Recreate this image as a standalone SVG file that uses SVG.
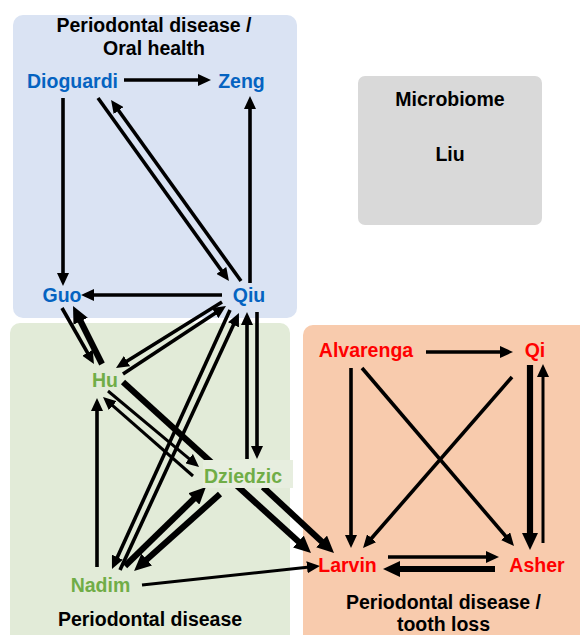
<svg xmlns="http://www.w3.org/2000/svg" width="580" height="635" viewBox="0 0 580 635">
<style>
text{font-family:"Liberation Sans",Arial,sans-serif;font-weight:bold;font-size:19.5px;text-anchor:middle}
.title{fill:#000}
.blue{fill:#0563c1}
.green{fill:#70ad47}
.red{fill:#ff0000}
.c line{stroke:#000;fill:none}
.n{stroke-width:3.6;marker-end:url(#ah)}
.s{stroke-width:3;marker-end:url(#ah)}
.t{stroke-width:6.2;marker-end:url(#ahb)}
</style>
<defs>
<marker id="ah" markerUnits="userSpaceOnUse" viewBox="0 0 13 12" markerWidth="13" markerHeight="12" refX="5" refY="6" orient="auto"><path d="M0,0 L13,6 L0,12 z" fill="#000"/></marker>
<marker id="ahb" markerUnits="userSpaceOnUse" viewBox="0 0 17 16" markerWidth="17" markerHeight="16" refX="7" refY="8" orient="auto"><path d="M0,0 L17,8 L0,16 z" fill="#000"/></marker>
</defs>
<rect width="580" height="635" fill="#fff"/>
<g id="regions">
<rect x="13" y="15" width="284" height="303" rx="10" fill="#dae3f3"/>
<rect x="10" y="323" width="280" height="330" rx="10" fill="#e2ebd8"/>
<rect x="303" y="325" width="290" height="330" rx="10" fill="#f8cbad"/>
<text class="title" x="154" y="32">Periodontal disease /</text>
<text class="title" x="154" y="55">Oral health</text>
<text class="title" x="150" y="626">Periodontal disease</text>
<text class="title" x="443.5" y="609">Periodontal disease /</text>
<text class="title" x="443.5" y="631">tooth loss</text>
</g>
<g id="connectors" class="c">
<line class="n" x1="124" y1="80" x2="203" y2="80"/>
<line class="n" x1="63" y1="98" x2="63" y2="278"/>
<line class="n" x1="98" y1="98" x2="224.3" y2="274.5"/>
<line class="n" x1="241" y1="281" x2="115.7" y2="106.5"/>
<line class="n" x1="250" y1="283" x2="250" y2="104"/>
<line class="n" x1="222" y1="295" x2="89" y2="295"/>
<line class="n" x1="62" y1="308" x2="90" y2="357.1"/>
<line class="t" x1="102" y1="364" x2="77.5" y2="315"/>
<line class="n" x1="222" y1="302" x2="122.8" y2="363.8"/>
<line class="n" x1="123" y1="374" x2="219.3" y2="310.4"/>
<line class="s" x1="108" y1="391" x2="192.9" y2="461.8"/>
<line class="s" x1="193" y1="476" x2="109" y2="402.3"/>
<line class="t" x1="123" y1="382" x2="303.6" y2="546.3"/>
<line class="t" x1="263" y1="487" x2="326.7" y2="546.2"/>
<line class="n" x1="257" y1="312" x2="257" y2="451"/>
<line class="n" x1="247" y1="459" x2="247" y2="320"/>
<line class="n" x1="230" y1="310" x2="115.3" y2="561.7"/>
<line class="n" x1="120" y1="570" x2="235.6" y2="320.3"/>
<line class="t" x1="125" y1="566" x2="198.8" y2="494"/>
<line class="t" x1="220" y1="494" x2="141.5" y2="564.3"/>
<line class="n" x1="97" y1="567" x2="97" y2="406"/>
<line class="s" x1="142" y1="585" x2="312" y2="566.8"/>
<line class="n" x1="426" y1="352" x2="505" y2="352"/>
<line class="n" x1="351" y1="368" x2="351" y2="540"/>
<line class="n" x1="362" y1="368" x2="508.8" y2="539.9"/>
<line class="n" x1="512" y1="377" x2="368.3" y2="542"/>
<line class="t" x1="530" y1="365" x2="530" y2="540"/>
<line class="s" x1="543" y1="543" x2="543" y2="372"/>
<line class="n" x1="388" y1="557" x2="491" y2="557"/>
<line class="t" x1="495" y1="569" x2="393" y2="569"/>
</g>
<g id="microbiome">
<rect x="358" y="76" width="184" height="149" rx="7" fill="#d9d9d9"/>
<text class="title" x="450" y="106">Microbiome</text>
<text class="title" x="450" y="161">Liu</text>
</g>
<g id="dioguardi"><text class="blue" x="72.5" y="88">Dioguardi</text></g>
<g id="zeng"><text class="blue" x="241.5" y="88">Zeng</text></g>
<g id="guo"><text class="blue" x="62" y="302">Guo</text></g>
<g id="qiu"><text class="blue" x="249" y="302">Qiu</text></g>
<g id="hu"><text class="green" x="105" y="387">Hu</text></g>
<g id="dziedzic"><rect x="203" y="460" width="90" height="28" fill="#e7eedf"/><text class="green" x="243" y="483">Dziedzic</text></g>
<g id="nadim"><text class="green" x="100.5" y="592">Nadim</text></g>
<g id="alvarenga"><text class="red" x="366" y="357">Alvarenga</text></g>
<g id="qi"><text class="red" x="535" y="357">Qi</text></g>
<g id="larvin"><text class="red" x="347.5" y="572">Larvin</text></g>
<g id="asher"><text class="red" x="537" y="572">Asher</text></g>
</svg>
